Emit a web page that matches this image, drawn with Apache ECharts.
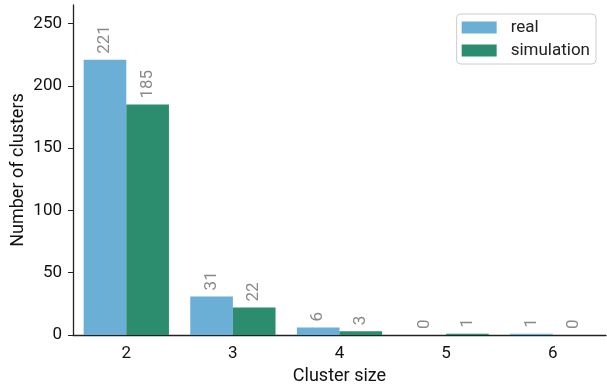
<!DOCTYPE html>
<html>
<head>
<meta charset="utf-8">
<script src="https://cdn.jsdelivr.net/npm/echarts@6/dist/echarts.min.js"></script>
<style>
html,body{margin:0;padding:0;background:#fff;}
#c{width:607px;height:385px;}
</style>
</head>
<body>
<div id="c"></div>
<script>
const categories = ['2', '3', '4', '5', '6'];
const realValues = [221, 31, 6, 0, 1];
const simValues = [185, 22, 3, 1, 0];
const yTicks = [0, 50, 100, 150, 200, 250];

const chart = echarts.init(document.getElementById('c'), null, {renderer: 'canvas'});
const font = 'Roboto';
const labelCfg = {
  show: true, position: 'top', rotate: 90, distance: 6,
  align: 'left', verticalAlign: 'middle',
  color: '#8a8a8a', fontSize: 17, fontFamily: font
};
chart.setOption({
  animation: false,
  grid: {left: 73, right: 1, top: 5, bottom: 50, outerBoundsMode: 'none', containLabel: false},
  legend: {
    orient: 'vertical', right: 11, top: 14,
    itemWidth: 35, itemHeight: 12, itemGap: 6,
    borderColor: '#cccccc', borderWidth: 1, borderRadius: 4,
    padding: [5, 6, 5, 5],
    textStyle: {fontSize: 17, fontFamily: font, color: '#222', padding: [0, 0, 0, 9]},
    icon: 'rect',
    data: ['real', 'simulation']
  },
  xAxis: {
    type: 'category', data: categories,
    name: 'Cluster size', nameLocation: 'middle', nameGap: 32, nameMoveOverlap: false,
    nameTextStyle: {fontSize: 18, fontFamily: font, color: '#111'},
    axisLine: {lineStyle: {color: '#222', width: 1.3}},
    axisTick: {alignWithLabel: true, length: 5, lineStyle: {color: '#222'}},
    axisLabel: {fontSize: 17, fontFamily: font, color: '#111', margin: 10}
  },
  yAxis: {
    type: 'value', min: 0, max: 265, interval: 50,
    name: 'Number of clusters', nameLocation: 'middle', nameGap: 46, nameMoveOverlap: false,
    nameTextStyle: {fontSize: 18, fontFamily: font, color: '#111'},
    axisLine: {show: true, lineStyle: {color: '#222', width: 1.3}},
    axisTick: {show: true, length: 5, lineStyle: {color: '#222'}, customValues: yTicks},
    axisLabel: {fontSize: 17, fontFamily: font, color: '#111', margin: 11, customValues: yTicks},
    splitLine: {show: false}
  },
  series: [
    {name: 'real', type: 'bar', data: realValues, barGap: '0%', barCategoryGap: '20%',
     itemStyle: {color: '#6baed6'}, label: labelCfg},
    {name: 'simulation', type: 'bar', data: simValues, barGap: '0%', barCategoryGap: '20%',
     itemStyle: {color: '#2b8d6d'}, label: labelCfg}
  ]
});
</script>
</body>
</html>
